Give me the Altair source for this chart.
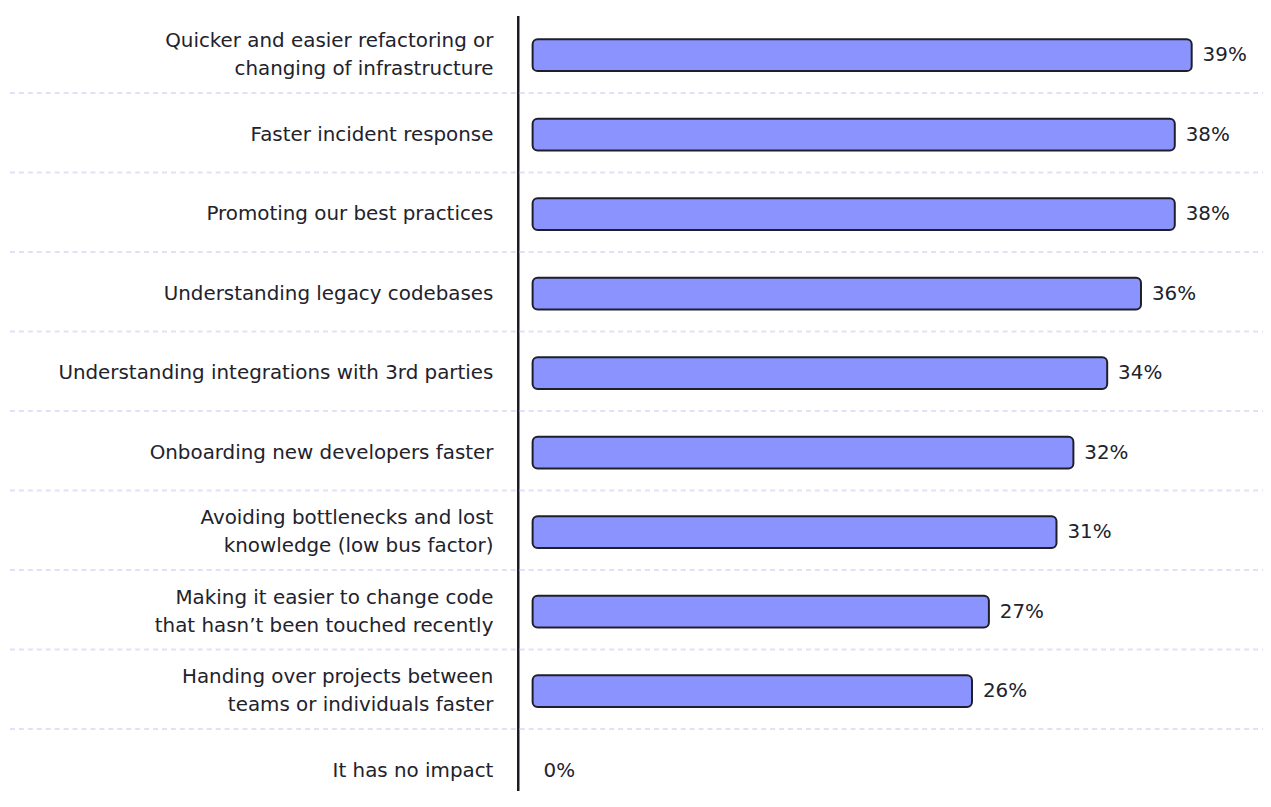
import altair as alt
import pandas as pd

categories = [
    "Quicker and easier refactoring or|changing of infrastructure",
    "Faster incident response",
    "Promoting our best practices",
    "Understanding legacy codebases",
    "Understanding integrations with 3rd parties",
    "Onboarding new developers faster",
    "Avoiding bottlenecks and lost|knowledge (low bus factor)",
    "Making it easier to change code|that hasn\u2019t been touched recently",
    "Handing over projects between|teams or individuals faster",
    "It has no impact",
]
values = [39, 38, 38, 36, 34, 32, 31, 27, 26, 0]
labels = [f"{v}%" for v in values]

df = pd.DataFrame({"cat": categories, "value": values, "label": labels})
grid_df = pd.DataFrame({"cat": categories[1:]})

FONT = "DejaVu Sans"
TEXT = "#22222c"
W = 742

yscale = alt.Scale(domain=categories, range=[0, 800], paddingInner=0.6, paddingOuter=0.3)
xscale = alt.Scale(domain=[-0.88, 42.75], nice=False, zero=False)

y_enc = alt.Y("cat:N", sort=categories, scale=yscale, title=None,
              axis=alt.Axis(labelExpr="split(datum.label, '|')", labelFontSize=20,
                            labelFont=FONT, labelColor=TEXT, labelPadding=25,
                            labelLimit=0, labelLineHeight=28, ticks=False,
                            labelOffset={"condition": {"test": "indexof(datum.value, '|') >= 0",
                                                       "value": -14}, "value": 0},
                            grid=False, domainColor="#1c1c24", domainWidth=2.5))

grid = alt.Chart(grid_df).mark_rule(
    color="#dfe1f9", strokeWidth=2, strokeDash=[5, 4], yOffset=-26
).encode(
    y=alt.Y("cat:N", sort=categories, scale=yscale, title=None, bandPosition=0),
    x=alt.value(-520), x2=alt.value(W + 8),
)

bars = alt.Chart(df).transform_filter("datum.value > 0").mark_bar(
    color="#8b93ff", stroke="#1f1f29", strokeWidth=2, cornerRadius=5
).encode(
    x=alt.X("value:Q", scale=xscale, axis=None),
    x2=alt.X2(datum=0),
    y=y_enc,
)

text = alt.Chart(df).mark_text(
    align="left", baseline="middle", dx=11, fontSize=20, font=FONT, color=TEXT
).encode(
    x=alt.X("value:Q", scale=xscale, axis=None),
    y=alt.Y("cat:N", sort=categories, scale=yscale),
    text="label:N",
)

chart = alt.layer(grid, bars, text).properties(
    width=W, height=778,
    autosize=alt.AutoSizeParams(type="none"),
    padding={"left": 513, "top": 5, "right": 8, "bottom": 0},
).configure_view(stroke=None)

chart.save("out.html", embed_options={"renderer": "svg", "actions": False})
